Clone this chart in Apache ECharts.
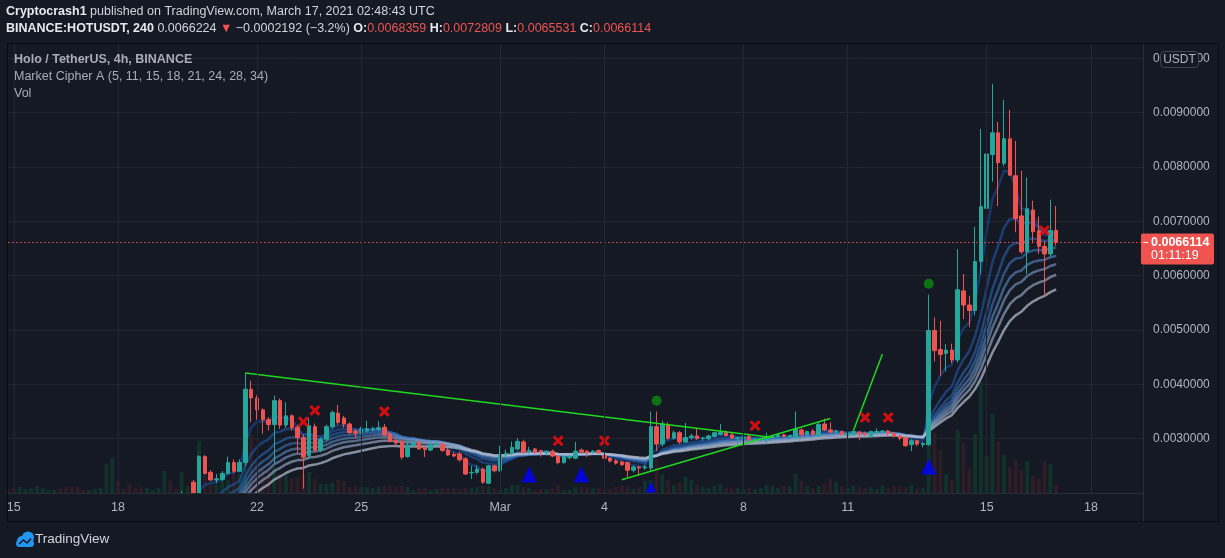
<!DOCTYPE html>
<html>
<head>
<meta charset="utf-8">
<script src="https://cdn.jsdelivr.net/npm/echarts/dist/echarts.min.js"></script>
<style>
html,body{margin:0;padding:0;background:#151924;}
#chart{width:1225px;height:558px;}
</style>
</head>
<body>
<div id="chart"></div>
<script>
// ---------- DATA (HOT/USDT, 4h candles, first slot = 2021-02-14 20:00 UTC) ----------
const firstSlotUTC = '2021-02-14T20:00:00Z';
const slotHours = 4;
const slotCount = 197; // axis slots shown (data + empty space to the right)

const opens = [
  .00098,.00095,.00092,.00096,.00098,.00100,.00103,.00104,.00105,.00106,
  .00102,.00099,.00097,.00095,.00094,.00096,.00098,.00101,.00120,.00132,
  .00123,.00120,.00114,.00112,.00110,.00114,.00117,.00120,.00140,.00133,
  .00130,.00185,.00220,.00192,.00267,.00238,.00224,.00225,.00236,.00256,
  .00240,.00256,.00391,.00375,.00353,.00335,.00326,.00370,.00325,.00342,
  .00321,.00302,.00269,.00322,.00279,.00299,.00322,.00347,.00338,.00327,
  .00314,.00311,.00314,.00316,.00317,.00321,.00309,.00296,.00295,.00267,
  .00288,.00293,.00284,.00279,.00289,.00290,.00279,.00271,.00272,.00263,
  .00237,.00238,.00244,.00218,.00250,.00241,.00271,.00273,.00281,.00294,
  .00276,.00281,.00278,.00275,.00277,.00268,.00256,.00265,.00264,.00279,
  .00277,.00275,.00278,.00269,.00264,.00259,.00257,.00256,.00242,.00248,
  .00246,.00246,.00322,.00290,.00325,.00301,.00311,.00294,.00302,.00305,
  .00300,.00300,.00304,.00308,.00312,.00307,.00300,.00301,.00304,.00298,
  .00298,.00298,.00302,.00304,.00307,.00303,.00302,.00316,.00307,.00314,
  .00305,.00327,.00316,.00312,.00313,.00306,.00308,.00312,.00310,.00304,
  .00311,.00313,.00314,.00310,.00305,.00302,.00289,.00296,.00289,.00289,
  .00499,.00464,.00457,.00463,.00445,.00572,.00546,.00536,.00626,.00724,
  .00823,.00863,.00807,.00852,.00784,.00710,.00644,.00721,.00683,.00654,
  .00640,.0068359
];
const highs = [
  .00100,.00097,.00097,.00099,.00101,.00104,.00106,.00106,.00108,.00107,
  .00104,.00101,.00099,.00097,.00097,.00099,.00102,.00125,.00140,.00135,
  .00126,.00123,.00117,.00114,.00115,.00118,.00121,.00145,.00148,.00136,
  .00204,.00199,.00224,.00270,.00270,.00242,.00235,.00240,.00267,.00262,
  .00262,.00421,.00407,.00380,.00356,.00340,.00379,.00374,.00367,.00345,
  .00325,.00308,.00339,.00328,.00302,.00326,.00352,.00362,.00342,.00330,
  .00318,.00322,.00333,.00322,.00332,.00327,.00312,.00302,.00298,.00298,
  .00296,.00298,.00286,.00295,.00295,.00293,.00283,.00275,.00276,.00266,
  .00250,.00251,.00247,.00252,.00252,.00287,.00280,.00295,.00301,.00298,
  .00285,.00283,.00279,.00277,.00280,.00270,.00269,.00270,.00294,.00282,
  .00279,.00279,.00280,.00274,.00266,.00262,.00259,.00258,.00251,.00250,
  .00252,.00350,.00350,.00333,.00330,.00315,.00314,.00329,.00309,.00319,
  .00303,.00307,.00313,.00327,.00315,.00311,.00303,.00304,.00309,.00301,
  .00301,.00311,.00305,.00307,.00309,.00307,.00350,.00319,.00315,.00318,
  .00330,.00337,.00330,.00316,.00315,.00312,.00315,.00314,.00313,.00315,
  .00319,.00316,.00316,.00312,.00307,.00304,.00299,.00298,.00294,.00565,
  .00523,.00517,.00474,.00475,.00649,.00603,.00563,.00690,.00870,.00859,
  .00953,.00883,.00924,.00905,.00848,.00793,.00781,.00738,.00709,.00664,
  .00740,.0072809
];
const lows = [
  .00094,.00091,.00091,.00094,.00096,.00099,.00101,.00102,.00103,.00101,
  .00098,.00096,.00094,.00093,.00093,.00095,.00097,.00100,.00118,.00120,
  .00118,.00112,.00111,.00108,.00109,.00113,.00116,.00119,.00130,.00128,
  .00129,.00180,.00188,.00190,.00234,.00222,.00218,.00222,.00234,.00236,
  .00238,.00250,.00330,.00335,.00309,.00315,.00254,.00318,.00320,.00315,
  .00272,.00208,.00262,.00275,.00275,.00295,.00318,.00325,.00320,.00308,
  .00300,.00308,.00311,.00313,.00314,.00305,.00293,.00287,.00262,.00265,
  .00285,.00280,.00266,.00277,.00286,.00276,.00268,.00266,.00258,.00233,
  .00226,.00234,.00217,.00216,.00238,.00239,.00265,.00270,.00279,.00272,
  .00272,.00272,.00267,.00269,.00266,.00253,.00254,.00262,.00262,.00272,
  .00266,.00273,.00272,.00261,.00256,.00252,.00250,.00229,.00238,.00232,
  .00243,.00240,.00277,.00285,.00298,.00298,.00290,.00292,.00298,.00298,
  .00296,.00297,.00302,.00306,.00304,.00300,.00290,.00298,.00297,.00295,
  .00295,.00290,.00300,.00301,.00302,.00301,.00300,.00305,.00305,.00306,
  .00303,.00314,.00311,.00309,.00306,.00304,.00306,.00297,.00305,.00302,
  .00309,.00311,.00303,.00302,.00297,.00285,.00277,.00286,.00284,.00287,
  .00442,.00416,.00424,.00439,.00440,.00520,.00505,.00527,.00603,.00716,
  .00773,.00728,.00801,.00784,.00680,.00640,.00603,.00661,.00640,.00563,
  .00635,.0065531
];
const closes = [
  .00095,.00092,.00096,.00098,.00100,.00103,.00104,.00105,.00106,.00102,
  .00099,.00097,.00095,.00094,.00096,.00098,.00101,.00120,.00132,.00123,
  .00120,.00114,.00112,.00110,.00114,.00117,.00120,.00140,.00133,.00130,
  .00185,.00198,.00192,.00267,.00236,.00224,.00226,.00236,.00256,.00240,
  .00256,.00391,.00375,.00353,.00335,.00326,.00370,.00325,.00342,.00320,
  .00302,.00266,.00324,.00279,.00299,.00322,.00348,.00330,.00327,.00311,
  .00310,.00318,.00318,.00318,.00320,.00307,.00295,.00292,.00266,.00288,
  .00293,.00281,.00280,.00289,.00291,.00278,.00270,.00268,.00261,.00235,
  .00238,.00244,.00220,.00250,.00241,.00270,.00273,.00284,.00295,.00275,
  .00278,.00275,.00276,.00277,.00268,.00256,.00267,.00267,.00277,.00276,
  .00274,.00277,.00274,.00264,.00259,.00255,.00252,.00242,.00248,.00246,
  .00248,.00322,.00290,.00327,.00301,.00311,.00294,.00302,.00305,.00300,
  .00301,.00305,.00311,.00312,.00306,.00301,.00302,.00303,.00298,.00299,
  .00299,.00302,.00304,.00307,.00304,.00306,.00318,.00307,.00313,.00308,
  .00326,.00316,.00312,.00314,.00308,.00310,.00313,.00309,.00307,.00313,
  .00313,.00314,.00310,.00305,.00301,.00287,.00296,.00290,.00291,.00499,
  .00462,.00455,.00463,.00445,.00574,.00546,.00536,.00626,.00727,.00824,
  .00863,.00808,.00852,.00785,.00705,.00644,.00723,.00681,.00654,.00640,
  .00683,.0066114
];
const volumes = [
  4,5,6,4,5,7,5,3,3,5,
  6,6,6,3,3,4,5,29,35,12,
  4,9,5,6,5,3,5,22,12,4,
  21,7,11,52,18,8,9,16,13,18,
  19,80,58,30,25,21,26,19,18,14,
  16,18,21,14,9,9,10,13,12,6,
  7,6,6,5,6,7,7,6,7,6,
  3,5,5,3,4,5,5,5,4,5,
  5,6,7,7,5,3,5,8,8,6,
  5,3,4,4,5,8,3,3,6,6,
  6,5,5,3,4,6,7,7,4,6,
  12,13,35,19,13,8,10,16,13,8,
  6,5,7,9,5,5,5,4,5,4,
  5,8,7,5,7,6,19,12,7,5,
  7,9,14,11,7,5,7,6,5,6,
  4,7,5,7,7,6,8,4,5,48,
  60,43,19,13,63,50,24,59,111,37,
  79,51,38,26,33,23,32,17,14,32,
  29,8
];

const emaLengths = [5, 11, 15, 18, 21, 24, 28, 34];

const tickDates  = ['2021-02-15','2021-02-18','2021-02-22','2021-02-25','2021-03-01','2021-03-04','2021-03-08','2021-03-11','2021-03-15','2021-03-18'];
const tickLabels = ['15','18','22','25','Mar','4','8','11','15','18'];

const crossMarks = [
  ['2021-02-23 08:00', 0.00331], ['2021-02-23 16:00', 0.00352], ['2021-02-25 16:00', 0.00350],
  ['2021-03-02 16:00', 0.00296], ['2021-03-04 00:00', 0.00296], ['2021-03-08 08:00', 0.00324],
  ['2021-03-11 12:00', 0.00339], ['2021-03-12 04:00', 0.00339], ['2021-03-16 16:00', 0.00683]
];
const greenDots = [['2021-03-05 12:00', 0.00370], ['2021-03-13 08:00', 0.00585]];
const blueTriangles = [
  ['2021-03-01 20:00', 0.00234], ['2021-03-03 08:00', 0.00234],
  ['2021-03-05 08:00', 0.00211], ['2021-03-13 08:00', 0.00249]
];
const trendLines = [
  [['2021-02-21 16:00', 0.00421], ['2021-03-08 20:00', 0.00302]],
  [['2021-03-04 12:00', 0.002245], ['2021-03-10 12:00', 0.00337]],
  [['2021-03-11 04:00', 0.00315], ['2021-03-12 00:00', 0.00456]]
];

const headerLast = '0.0066224';
const headerChange = '\u22120.0002192 (\u22123.2%)';
const countdown = '01:11:19';

// ---------- BUILD ----------
const FONT = "'Liberation Sans Narrow','Liberation Sans',sans-serif";
const BG = '#151924';
const UP = '#26a69a', DOWN = '#ef5350';

function pad(n){ return (n < 10 ? '0' : '') + n; }
function fmt(t){
  const d = new Date(t);
  return d.getUTCFullYear() + '-' + pad(d.getUTCMonth()+1) + '-' + pad(d.getUTCDate()) + ' ' + pad(d.getUTCHours()) + ':00';
}
const t0 = Date.parse(firstSlotUTC);
const times = [];
for (let i = 0; i < slotCount; i++) times.push(fmt(t0 + i * slotHours * 3600e3));

const labelMap = new Map();
tickDates.forEach((d, i) => labelMap.set(d + ' 00:00', tickLabels[i]));

const candleData = opens.map((o, i) => [o, closes[i], lows[i], highs[i]]);
const volData = volumes.map((v, i) => ({
  value: v,
  itemStyle: { color: closes[i] >= opens[i] ? '#11312b' : '#2d1d27' }
}));

const ribbonColors = [
  'rgba(30,78,165,0.55)', 'rgba(34,92,180,0.55)', 'rgba(44,108,192,0.55)', 'rgba(64,124,198,0.55)',
  'rgba(92,140,200,0.6)', 'rgba(122,154,198,0.62)', 'rgba(150,168,198,0.66)', 'rgba(176,188,208,0.72)'
];
const ribbonSeries = emaLengths.map((n, k) => {
  const a = 2 / (n + 1);
  let e = closes[0];
  const vals = closes.map((c, i) => { e = i === 0 ? c : a * c + (1 - a) * e; return +e.toFixed(7); });
  return {
    type: 'line', name: 'EMA ' + n, data: vals, showSymbol: false, smooth: false, clip: true,
    lineStyle: { width: 2.5, color: ribbonColors[k] }, z: 3, silent: true
  };
});

const lastO = opens[opens.length-1], lastH = highs[highs.length-1], lastL = lows[lows.length-1], lastC = closes[closes.length-1];
const f7 = v => v.toFixed(7);

const chart = echarts.init(document.getElementById('chart'), null, { renderer: 'canvas' });

const FS = 12.5;
const option = {
  backgroundColor: BG,
  animation: false,
  textStyle: { fontFamily: FONT },
  title: [
    { left: 6, top: 5, padding: 0, zlevel: 1,
      text: '{b|Cryptocrash1} published on TradingView.com, March 17, 2021 02:48:43 UTC',
      textStyle: { color: '#d1d4dc', fontSize: FS, fontWeight: 'normal', fontFamily: FONT,
        rich: { b: { color: '#e6e8ee', fontWeight: 'bold', fontSize: FS, fontFamily: FONT } } } },
    { left: 6, top: 22, padding: 0, zlevel: 1,
      text: '{b|BINANCE:HOTUSDT, 240} ' + headerLast + '{r| \u25BC} ' + headerChange +
            ' {b|O:}{r|' + f7(lastO) + '} {b|H:}{r|' + f7(lastH) + '} {b|L:}{r|' + f7(lastL) + '} {b|C:}{r|' + f7(lastC) + '}',
      textStyle: { color: '#d1d4dc', fontSize: FS, fontWeight: 'normal', fontFamily: FONT,
        rich: { b: { color: '#e6e8ee', fontWeight: 'bold', fontSize: FS, fontFamily: FONT },
                r: { color: '#ef5350', fontSize: FS, fontFamily: FONT } } } },
    { left: 14, top: 53, padding: 0, zlevel: 1, text: 'Holo / TetherUS, 4h, BINANCE',
      textStyle: { color: '#a9acb6', fontSize: 12.5, fontWeight: 'bold', fontFamily: FONT } },
    { left: 14, top: 70, padding: 0, zlevel: 1, text: 'Market Cipher A (' + emaLengths.join(', ') + ')',
      textStyle: { color: '#a9acb6', fontSize: 12.5, fontWeight: 'normal', fontFamily: FONT } },
    { left: 14, top: 87, padding: 0, zlevel: 1, text: 'Vol',
      textStyle: { color: '#a9acb6', fontSize: 12.5, fontWeight: 'normal', fontFamily: FONT } },
    { left: 35, top: 532, padding: 0, zlevel: 1, text: 'TradingView',
      textStyle: { color: '#d1d4dc', fontSize: 13.5, fontWeight: 'normal', fontFamily: FONT } }
  ],
  grid: { left: 8, top: 43, width: 1135, height: 450, containLabel: false },
  xAxis: {
    type: 'category', data: times, boundaryGap: false, zlevel: 1,
    axisLine: { show: true, lineStyle: { color: '#2a2e39' } },
    axisTick: { show: false },
    axisLabel: {
      interval: (i, v) => labelMap.has(v), formatter: v => labelMap.get(v) || '',
      color: '#b2b5be', fontSize: 12.5, margin: 8, fontFamily: FONT
    },
    splitLine: { show: true, interval: (i, v) => labelMap.has(v), lineStyle: { color: '#222632', width: 1 } }
  },
  yAxis: [
    { type: 'value', position: 'right', min: 0.002, max: 0.0102828, interval: 0.001, scale: false,
      axisLine: { show: true, lineStyle: { color: '#2a2e39' } },
      axisTick: { show: false },
      axisLabel: { color: '#b2b5be', fontSize: 12, margin: 10, fontFamily: FONT,
        formatter: v => v.toFixed(7), showMinLabel: false, showMaxLabel: false },
      splitLine: { show: true, lineStyle: { color: '#222632', width: 1 } } },
    { type: 'value', min: 0, max: 450, show: false, splitLine: { show: false } }
  ],
  series: [
    { type: 'bar', name: 'Vol', data: volData, yAxisIndex: 1, barWidth: 4, z: 1, silent: true },
    ...ribbonSeries,
    { type: 'candlestick', name: 'HOTUSDT', data: candleData, barWidth: 4, clip: true, z: 4,
      itemStyle: { color: UP, color0: DOWN, borderColor: UP, borderColor0: DOWN, borderWidth: 1 } },
    ...trendLines.map(seg => ({
      type: 'line', data: seg, showSymbol: false, z: 5, silent: true,
      lineStyle: { color: '#1fd81f', width: 1.5 }
    })),
    { type: 'scatter', name: 'sell', data: crossMarks, z: 6, silent: true,
      symbol: 'path://M2,0 L5,3 L8,0 L10,2 L7,5 L10,8 L8,10 L5,7 L2,10 L0,8 L3,5 L0,2 Z',
      symbolSize: 11, itemStyle: { color: '#ff0a0a' } },
    { type: 'scatter', name: 'dot', data: greenDots, z: 6, silent: true,
      symbol: 'circle', symbolSize: 10, itemStyle: { color: '#0b8a0b' } },
    { type: 'scatter', name: 'buy', data: blueTriangles, z: 6, silent: true,
      symbol: 'triangle', symbolSize: v => (v[1] < 0.0022 ? [11, 11] : [16, 16]),
      itemStyle: { color: '#0000ff' } }
  ]
};
chart.setOption(option);

// price line/tag, frame, pane cover and logo overlay
const py = chart.convertToPixel({ yAxisIndex: 0 }, lastC);
const gb = chart.convertToPixel({ yAxisIndex: 0 }, 0.002);
const LOGO = '#2196f3';
chart.setOption({
  graphic: [
    // hide parts of candles that hang below the price pane (TradingView clips them)
    { type: 'rect', silent: true, zlevel: 0, z: 90, shape: { x: 8, y: gb + 0.5, width: 1135, height: 558 - gb },
      style: { fill: BG } },
    { type: 'line', silent: true, zlevel: 0, z: 91, shape: { x1: 8, y1: py, x2: 1141, y2: py },
      style: { stroke: '#ef5350', lineWidth: 1, lineDash: [1.5, 2.5] } },
    { type: 'rect', silent: true, zlevel: 1, z: 100, shape: { x: 7.5, y: 43.5, width: 1211, height: 478 },
      style: { fill: 'none', stroke: '#090b10', lineWidth: 1 } },
    { type: 'line', silent: true, zlevel: 1, z: 100, shape: { x1: 1143.5, y1: gb, x2: 1143.5, y2: 521 },
      style: { stroke: '#2a2e39', lineWidth: 1 } },
    { type: 'rect', silent: true, zlevel: 1, z: 101, shape: { x: 1160.5, y: 51.5, width: 38, height: 16, r: 4 },
      style: { fill: BG, stroke: '#434651', lineWidth: 1 } },
    { type: 'text', silent: true, zlevel: 1, z: 102, x: 1179.5, y: 59.5,
      style: { text: 'USDT', fill: '#b2b5be', font: '12px ' + FONT, align: 'center', verticalAlign: 'middle' } },
    { type: 'rect', silent: true, zlevel: 1, z: 101, shape: { x: 1141, y: py - 9, width: 73, height: 31, r: 2 },
      style: { fill: '#ef5350' } },
    { type: 'line', silent: true, zlevel: 1, z: 102, shape: { x1: 1143, y1: py, x2: 1148, y2: py },
      style: { stroke: '#ffffff', lineWidth: 1 } },
    { type: 'text', silent: true, zlevel: 1, z: 102, x: 1151, y: py,
      style: { text: f7(lastC), fill: '#ffffff', font: 'bold 12.5px ' + FONT, verticalAlign: 'middle' } },
    { type: 'text', silent: true, zlevel: 1, z: 102, x: 1151, y: py + 13,
      style: { text: countdown, fill: '#ffffff', font: '12.5px ' + FONT, verticalAlign: 'middle' } },
    // TradingView logo (cloud)
    { type: 'circle', silent: true, zlevel: 1, z: 100, shape: { cx: 22, cy: 541, r: 5 }, style: { fill: LOGO } },
    { type: 'circle', silent: true, zlevel: 1, z: 100, shape: { cx: 28, cy: 537.5, r: 6 }, style: { fill: LOGO } },
    { type: 'rect', silent: true, zlevel: 1, z: 100, shape: { x: 16, y: 540, width: 18, height: 7, r: 3.5 }, style: { fill: LOGO } },
    { type: 'polyline', silent: true, zlevel: 1, z: 101, shape: { points: [[19, 544], [23.5, 540], [27, 543], [31, 538.5]] },
      style: { stroke: BG, lineWidth: 1.5, fill: 'none' } }
  ]
});
</script>
</body>
</html>
